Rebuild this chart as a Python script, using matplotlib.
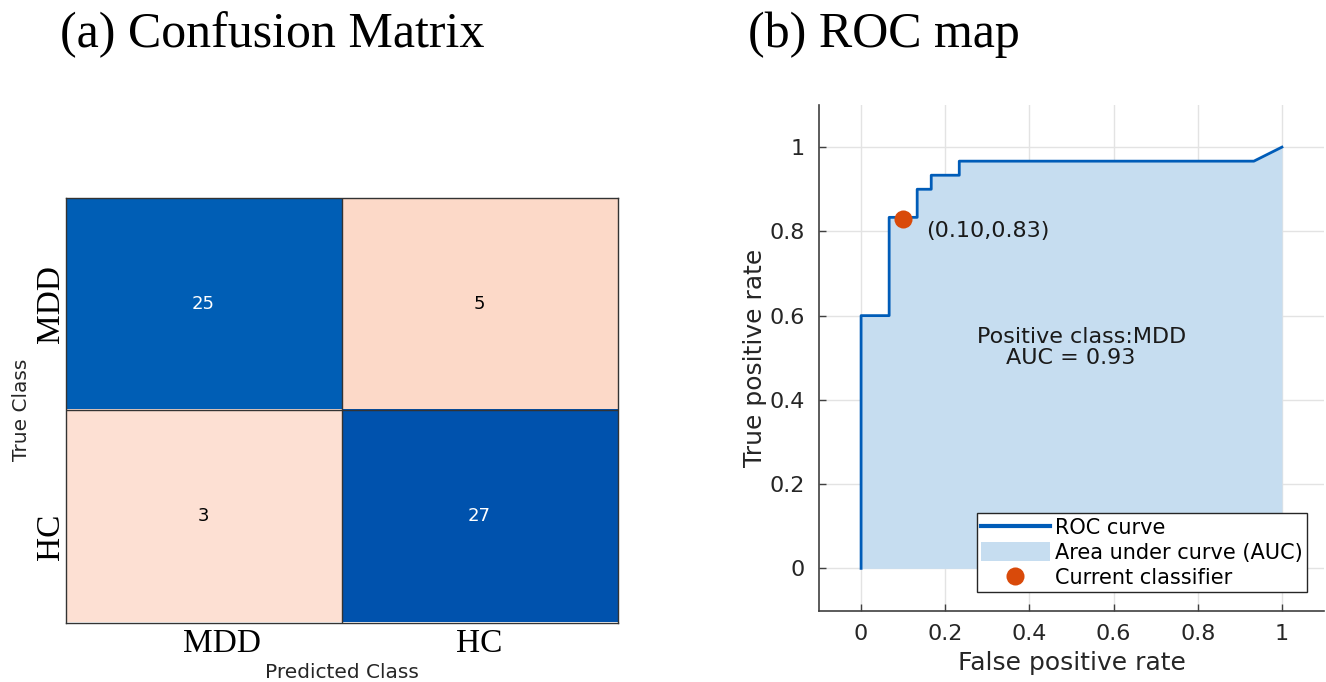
import matplotlib
matplotlib.use("Agg")
import matplotlib.pyplot as plt
from matplotlib.colors import ListedColormap
from matplotlib.transforms import ScaledTranslation
import numpy as np

# ---------------- data ----------------
classes = ["MDD", "HC"]
cm_values = [[25, 5],
             [3, 27]]
cm_cell_colors = [["#005EB5", "#FCD9C8"],
                  ["#FDE0D3", "#0052AD"]]
cm_text_colors = [["white", "black"],
                  ["black", "white"]]

roc_fpr = [0.0, 0.0, 0.0667, 0.0667, 0.1333, 0.1333, 0.1667, 0.1667, 0.2333, 0.2333, 0.9333, 1.0]
roc_tpr = [0.0, 0.6, 0.6, 0.8333, 0.8333, 0.9, 0.9, 0.9333, 0.9333, 0.9667, 0.9667, 1.0]
current_fpr = 0.10
current_tpr = 0.83
auc_value = 0.93
roc_ticks = [0, 0.2, 0.4, 0.6, 0.8, 1]
roc_tick_labels = ["0", "0.2", "0.4", "0.6", "0.8", "1"]

W, H = 1326, 682
fig = plt.figure(figsize=(W / 100, H / 100), dpi=100)

def fr(x0, y0, x1, y1):
    return [x0 / W, 1 - y1 / H, (x1 - x0) / W, (y1 - y0) / H]

# ---------------- confusion matrix ----------------
ax1 = fig.add_axes(fr(65.5, 197.5, 617.5, 622.5))
n = len(classes)
flat_colors = [c for row in cm_cell_colors for c in row]
cmap = ListedColormap(flat_colors)
idx = np.arange(n * n).reshape(n, n)
ax1.imshow(idx, cmap=cmap, vmin=-0.5, vmax=n * n - 0.5, aspect="auto",
           interpolation="nearest")
for i in range(n):
    for j in range(n):
        ax1.text(j, i, str(cm_values[i][j]), ha="center", va="center",
                 fontsize=13, color=cm_text_colors[i][j], family="DejaVu Sans")
for k in range(1, n):
    ax1.axhline(k - 0.5, color="#333333", lw=1.0)
    ax1.axvline(k - 0.5, color="#333333", lw=1.0)
for sp in ax1.spines.values():
    sp.set_color("#333333")
    sp.set_linewidth(1.0)
ax1.set_xticks(range(n))
ax1.set_yticks(range(n))
ax1.set_xticklabels(classes, family="Liberation Serif", fontsize=24)
ax1.set_yticklabels(classes, family="Liberation Serif", fontsize=24,
                    rotation=90, va="center")
ax1.tick_params(length=0)
ax1.tick_params(axis="x", pad=4)
ax1.tick_params(axis="y", pad=0)
# the first x label and the second y label sit slightly off-centre in the reference
xl = ax1.get_xticklabels()
xl[0].set_transform(xl[0].get_transform() + ScaledTranslation(0.18, 0, fig.dpi_scale_trans))
yl = ax1.get_yticklabels()
yl[1].set_transform(yl[1].get_transform() + ScaledTranslation(0, -0.21, fig.dpi_scale_trans))
ax1.set_xlabel("Predicted Class", fontsize=14.5, color="#262626", labelpad=3)
ax1.set_ylabel("True Class", fontsize=14.5, color="#262626", labelpad=3)

fig.text(60 / W, 1 - 35 / H, "(a) Confusion Matrix", family="Liberation Serif",
         fontsize=36, ha="left", va="center")
fig.text(748 / W, 1 - 35 / H, "(b) ROC map", family="Liberation Serif",
         fontsize=36, ha="left", va="center")

# ---------------- ROC ----------------
ax2 = fig.add_axes(fr(819, 105, 1324, 610.5))
ax2.set_xlim(-0.1, 1.1)
ax2.set_ylim(-0.1, 1.1)
line_color = "#005CB8"
fill_color = "#C6DDF0"
ax2.fill_between(roc_fpr, roc_tpr, 0, color=fill_color, lw=0,
                 label="Area under curve (AUC)", zorder=2)
ax2.plot(roc_fpr, roc_tpr, color=line_color, lw=2.0, label="ROC curve", zorder=3)
ax2.plot([current_fpr], [current_tpr], "o", color="#D94A0A", ms=13, mec="none",
         label="Current classifier", zorder=4)
ax2.text(0.154, 0.80, f"({current_fpr:.2f},{current_tpr:.2f})", fontsize=16,
         color="#1a1a1a", ha="left", va="center", zorder=5)
ax2.text(0.275, 0.55, "Positive class:MDD", fontsize=16, color="#1a1a1a",
         ha="left", va="center", zorder=5)
ax2.text(0.345, 0.50, f"AUC = {auc_value:.2f}", fontsize=16, color="#1a1a1a",
         ha="left", va="center", zorder=5)

ax2.set_xticks(roc_ticks)
ax2.set_yticks(roc_ticks)
ax2.set_xticklabels(roc_tick_labels)
ax2.set_yticklabels(roc_tick_labels)
ax2.grid(True, color="#E3E3E3", lw=1.0, zorder=0)
ax2.set_axisbelow(True)
ax2.tick_params(direction="in", length=5, width=1, colors="#404040",
                labelsize=16, labelcolor="#262626", pad=10)
for s in ["top", "right"]:
    ax2.spines[s].set_visible(False)
for s in ["left", "bottom"]:
    ax2.spines[s].set_color("#404040")
    ax2.spines[s].set_linewidth(1.2)
ax2.set_xlabel("False positive rate", fontsize=18, color="#262626", labelpad=5)
ax2.set_ylabel("True positive rate", fontsize=18, color="#262626", labelpad=2)

h, l = ax2.get_legend_handles_labels()
order = [l.index("ROC curve"), l.index("Area under curve (AUC)"), l.index("Current classifier")]
leg = ax2.legend([h[i] for i in order], [l[i] for i in order],
                 loc="lower right", bbox_to_anchor=(1307 / W, 1 - 592 / H),
                 bbox_transform=fig.transFigure, fontsize=15, frameon=True,
                 fancybox=False, edgecolor="#262626", framealpha=1,
                 handlelength=3.3, handleheight=1.0, handletextpad=0.25,
                 borderpad=0.2, labelspacing=0.22, borderaxespad=0)
leg.get_frame().set_linewidth(1.0)
leg.legend_handles[order.index(0) if False else 0].set_linewidth(3.0)

fig.savefig("out.png", dpi=100)
